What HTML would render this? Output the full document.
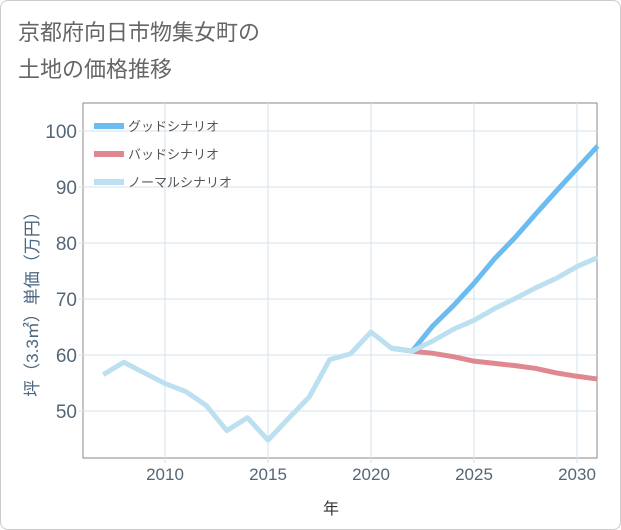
<!DOCTYPE html>
<html><head><meta charset="utf-8"><style>
body{margin:0;background:#fff;font-family:"Liberation Sans","Noto Sans CJK JP",sans-serif;}
#c{position:relative;width:619px;height:528px;border:1px solid #ccc;border-radius:8px;overflow:hidden;background:#fff}
</style></head><body>
<div id="c">
<svg id="s" width="621" height="530" style="position:absolute;left:-1px;top:-1px">
<text x="18" y="40" font-size="22" fill="#666">京都府向日市物集女町の</text>
<text x="18" y="77" font-size="22" fill="#666">土地の価格推移</text>
<text x="331" y="514" font-size="16" fill="#333" text-anchor="middle">年</text>
<text transform="translate(38,300) rotate(-90)" font-size="17" fill="#4a6680" text-anchor="middle">坪（3.3㎡）単価（万円）</text>
<g id="grid"></g><g id="series"></g><g id="legend"></g>
</svg>
</div>
<script>
const xTicks=[2010,2015,2020,2025,2030];
const yTicks=[50,60,70,80,90,100];
const normalYears=[2007,2008,2009,2010,2011,2012,2013,2014,2015,2016,2017,2018,2019,2020,2021,2022,2023,2024,2025,2026,2027,2028,2029,2030,2031];
const normalValues=[56.5,58.7,56.8,54.9,53.5,51,46.5,48.8,44.8,48.7,52.5,59.2,60.2,64.1,61.2,60.7,62.5,64.6,66.2,68.3,70.1,72,73.7,75.8,77.4];
const scenYears=[2021,2022,2023,2024,2025,2026,2027,2028,2029,2030,2031];
const goodValues=[61.2,60.7,65.2,68.8,72.8,77.2,81,85.2,89.3,93.3,97.3];
const badValues=[61.2,60.7,60.3,59.7,58.9,58.5,58.1,57.6,56.8,56.2,55.7];
const L=83,R=597,T=103,B=458;
const xs=y=>165+(y-2010)*20.6;
const ys=v=>411-(v-50)*5.6;
const NS="http://www.w3.org/2000/svg";
function mk(t,a,p){const e=document.createElementNS(NS,t);for(const k in a)e.setAttribute(k,a[k]);p.appendChild(e);return e;}
const g=document.getElementById('grid');
const frame=mk('rect',{x:L,y:T,width:R-L,height:B-T,fill:'none',stroke:'#888','stroke-width':1},g);


xTicks.forEach(t=>{
 const l=mk('line',{x1:xs(t),x2:xs(t),y1:T,y2:B+5,stroke:'#d5e3ee'},g);
 
 
 const tx=mk('text',{x:xs(t),y:B+22,'font-size':17,fill:'#556677','text-anchor':'middle'},g);
 tx.textContent=t;
 
 
});
yTicks.forEach(t=>{
 const l=mk('line',{x1:L-5,x2:R,y1:ys(t),y2:ys(t),stroke:'#d5e3ee'},g);
 
 
 const tx=mk('text',{x:L-6,y:ys(t)+7,'font-size':19,fill:'#556677','text-anchor':'end'},g);
 tx.textContent=t;
 
 
});
const s=document.getElementById('series');
function line(yrs,vals,col,name){
 const p=mk('polyline',{points:yrs.map((y,i)=>xs(y)+','+ys(vals[i])).join(' '),fill:'none',stroke:col,'stroke-width':5,'stroke-linejoin':'round'},s);
 
 
}
line(scenYears,badValues,'#e08890','bad-scenario-line');
line(scenYears,goodValues,'#6bbcf0','good-scenario-line');
line(normalYears,normalValues,'#bde0f0','normal-scenario-line');
const lg=document.getElementById('legend');
[['グッドシナリオ','#6bbcf0'],['バッドシナリオ','#e08890'],['ノーマルシナリオ','#bde0f0']].forEach((d,i)=>{
 const y=126+i*28;
 const r=mk('rect',{x:94,y:y-3,width:30,height:6,fill:d[1]},lg);
 
 
 const t=mk('text',{x:128,y:y+5,'font-size':13,fill:'#555'},lg);
 t.textContent=d[0];
 
 
});
</script>
</body></html>
